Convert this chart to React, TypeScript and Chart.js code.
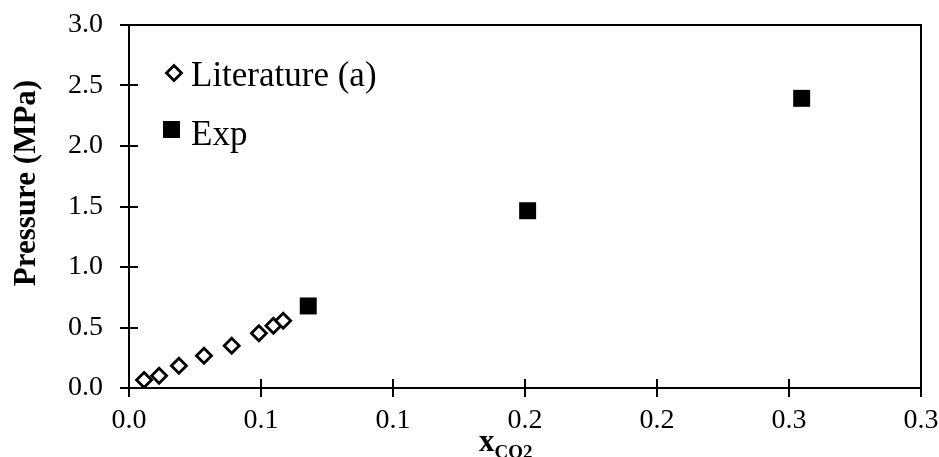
import React, { useEffect, useRef } from 'react';
import { Chart, registerables } from 'chart.js';

Chart.register(...registerables);

// ---- data ----
const literatureX = [0.0057, 0.0114, 0.0189, 0.0284, 0.0389, 0.0492, 0.0547, 0.0584];
const literatureY = [0.066, 0.102, 0.184, 0.267, 0.35, 0.452, 0.515, 0.556];
const expX = [0.0679, 0.151, 0.2548];
const expY = [0.678, 1.465, 2.394];
const xTickLabels = ['0.0', '0.1', '0.1', '0.2', '0.2', '0.3', '0.3'];
const yTickLabels = ['0.0', '0.5', '1.0', '1.5', '2.0', '2.5', '3.0'];
const seriesNames = ['Literature (a)', 'Exp'];
const xTitleMain = 'x';
const xTitleSub = 'CO2';
const yTitle = 'Pressure (MPa)';

const SERIF = '"Liberation Serif", "Times New Roman", serif';

const framePlugin = {
  id: 'frame',
  beforeDatasetsDraw(chart: any) {
    const { ctx, chartArea: a, scales } = chart;
    ctx.save();
    ctx.strokeStyle = '#000';
    ctx.lineWidth = 2;
    ctx.strokeRect(a.left, a.top, a.right - a.left, a.bottom - a.top);
    ctx.beginPath();
    const xs = scales.x;
    const ys = scales.y;
    xs.ticks.forEach((t: any) => {
      const px = Math.round(xs.getPixelForValue(t.value));
      ctx.moveTo(px, a.bottom - 9);
      ctx.lineTo(px, a.bottom + 9);
    });
    ys.ticks.forEach((t: any) => {
      const py = Math.round(ys.getPixelForValue(t.value));
      ctx.moveTo(a.left - 9, py);
      ctx.lineTo(a.left + 9, py);
    });
    ctx.stroke();
    ctx.restore();
  },
  afterDraw(chart: any) {
    const { ctx } = chart;
    ctx.save();

    // legend
    const dsL = chart.data.datasets[0];
    const dsE = chart.data.datasets[1];
    const dx = 174, dy = 73, r = 7.5;
    ctx.beginPath();
    ctx.moveTo(dx - r, dy);
    ctx.lineTo(dx, dy - r);
    ctx.lineTo(dx + r, dy);
    ctx.lineTo(dx, dy + r);
    ctx.closePath();
    ctx.fillStyle = dsL.backgroundColor;
    ctx.fill();
    ctx.lineWidth = dsL.borderWidth;
    ctx.strokeStyle = dsL.borderColor;
    ctx.stroke();
    ctx.fillStyle = dsE.backgroundColor;
    ctx.fillRect(163, 121, 17, 17);

    ctx.fillStyle = '#000';
    ctx.font = `35px ${SERIF}`;
    ctx.textAlign = 'left';
    ctx.textBaseline = 'alphabetic';
    ctx.fillText(dsL.label, 191, 86);
    ctx.fillText(dsE.label, 191, 145);

    // y title
    ctx.save();
    ctx.translate(35, 183);
    ctx.rotate(-Math.PI / 2);
    ctx.font = `bold 31px ${SERIF}`;
    ctx.textAlign = 'center';
    ctx.textBaseline = 'alphabetic';
    ctx.fillText(yTitle, 0, 0);
    ctx.restore();

    // x title with subscript
    ctx.font = `bold 31px ${SERIF}`;
    ctx.textAlign = 'left';
    ctx.fillText(xTitleMain, 479, 451);
    const w = ctx.measureText(xTitleMain).width;
    ctx.font = `bold 19px ${SERIF}`;
    ctx.fillText(xTitleSub, 479 + w, 458);
    ctx.restore();
  },
};

export default function App() {
  const canvasRef = useRef<HTMLCanvasElement | null>(null);

  useEffect(() => {
    document.body.style.margin = '0';
    const canvas = canvasRef.current;
    if (!canvas) return;
    const chart = new Chart(canvas, {
      type: 'scatter',
      data: {
        datasets: [
          {
            label: seriesNames[0],
            data: literatureX.map((x, i) => ({ x, y: literatureY[i] })),
            pointStyle: 'rectRot',
            pointRadius: 7.5,
            pointHoverRadius: 7.5,
            borderWidth: 2.8,
            borderColor: '#000',
            backgroundColor: '#fff',
          },
          {
            label: seriesNames[1],
            data: expX.map((x, i) => ({ x, y: expY[i] })),
            pointStyle: 'rect',
            pointRadius: 12,
            pointHoverRadius: 12,
            borderWidth: 0,
            borderColor: '#000',
            backgroundColor: '#000',
          },
        ],
      },
      options: {
        responsive: false,
        animation: false,
        devicePixelRatio: 1,
        layout: { padding: { top: 25, right: 18, left: 0, bottom: 0 } },
        plugins: {
          legend: { display: false },
          tooltip: { enabled: false },
        },
        scales: {
          x: {
            type: 'linear',
            min: 0,
            max: 0.3,
            grid: { display: false },
            border: { display: false },
            ticks: {
              stepSize: 0.05,
              color: '#000',
              padding: 8,
              maxRotation: 0,
              autoSkip: false,
              font: { family: SERIF, size: 28 },
              callback: (_v: any, i: number) => xTickLabels[i],
            },
            afterFit: (s: any) => {
              s.height = 69;
              s.paddingLeft = 0;
              s.paddingRight = 0;
              s.paddingTop = 0;
              s.paddingBottom = 0;
            },
          },
          y: {
            type: 'linear',
            min: 0,
            max: 3,
            grid: { display: false },
            border: { display: false },
            ticks: {
              stepSize: 0.5,
              color: '#000',
              padding: 18,
              autoSkip: false,
              font: { family: SERIF, size: 28 },
              callback: (_v: any, i: number) => yTickLabels[i],
            },
            afterFit: (s: any) => {
              s.width = 129;
              s.paddingLeft = 0;
              s.paddingRight = 0;
              s.paddingTop = 0;
              s.paddingBottom = 0;
            },
          },
        },
      },
      plugins: [framePlugin],
    });
    return () => chart.destroy();
  }, []);

  return (
    <div style={{ position: 'absolute', left: 0, top: 0, width: 939, height: 457, background: '#fff' }}>
      <canvas ref={canvasRef} width={939} height={457} style={{ display: 'block' }} />
    </div>
  );
}
